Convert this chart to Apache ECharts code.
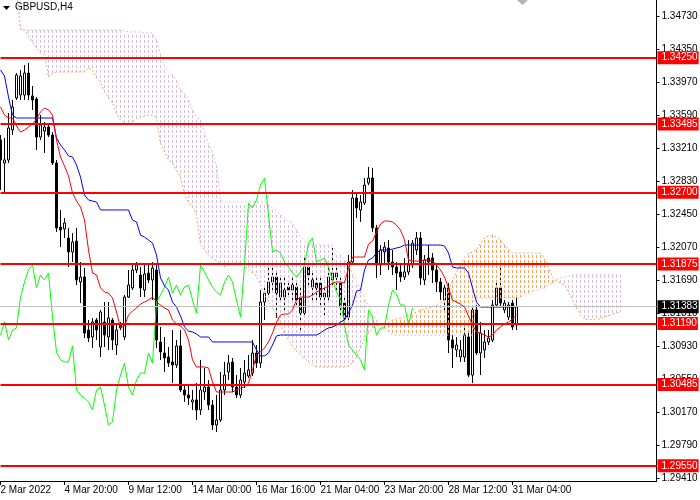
<!DOCTYPE html>
<html>
<head>
<meta charset="utf-8">
<title>GBPUSD,H4</title>
<script src="https://cdn.jsdelivr.net/npm/echarts@6.0.0/dist/echarts.min.js"></script>
<style>
  html, body { margin: 0; padding: 0; background: #ffffff; }
  #chart { width: 700px; height: 500px; }
</style>
</head>
<body>
<div id="chart"></div>
<script>
// bars on the time axis (price bars + 26 bars of forward cloud + empty space)
const barCount = 165;
const timeLabels = ['2 Mar 2022', '4 Mar 20:00', '9 Mar 12:00', '14 Mar 00:00', '16 Mar 16:00',
    '21 Mar 04:00', '23 Mar 20:00', '28 Mar 12:00', '31 Mar 04:00'];
const priceTicks = [1.29410, 1.29790, 1.30170, 1.30550, 1.30930, 1.31310, 1.31690, 1.32070,
    1.32450, 1.32830, 1.33210, 1.33590, 1.33970, 1.34350, 1.34730];
const levelLines = [1.34250, 1.33485, 1.32700, 1.31875, 1.31190, 1.30485, 1.29550];
const lastPrice = 1.31383;

// H4 candles
const opens = [
    1.33302, 1.33037, 1.33072, 1.33417, 1.33786, 1.33820, 1.33820, 1.34073, 1.33809, 1.33774,
    1.33336, 1.33405, 1.33451, 1.33359, 1.33037, 1.32300, 1.32277, 1.32173, 1.32012, 1.32138,
    1.31667, 1.31724, 1.31114, 1.31033, 1.31229, 1.30918, 1.31206, 1.31033, 1.31229, 1.30941,
    1.31171, 1.31033, 1.31493, 1.31598, 1.31805, 1.31747, 1.31574, 1.31770, 1.31690, 1.31805,
    1.30976, 1.30849, 1.30803, 1.30746, 1.30711, 1.30930, 1.30423, 1.30365, 1.30285, 1.30308,
    1.30193, 1.30400, 1.30457, 1.30250, 1.30020, 1.30078, 1.30423, 1.30630, 1.30746, 1.30457,
    1.30365, 1.30515, 1.30584, 1.30618, 1.30849, 1.30734, 1.31436, 1.31539, 1.31667, 1.31724,
    1.31493, 1.31493, 1.31609, 1.31574, 1.31609, 1.31482, 1.31309, 1.31839, 1.31609, 1.31655,
    1.31655, 1.31493, 1.31493, 1.31690, 1.31724, 1.31655, 1.31424, 1.31263, 1.31897, 1.32634,
    1.32496, 1.32576, 1.32806, 1.32864, 1.32289, 1.31862, 1.32012, 1.32058, 1.31897, 1.31839,
    1.31782, 1.31724, 1.31782, 1.31862, 1.32035, 1.32173, 1.31690, 1.31943, 1.31943, 1.31805,
    1.31667, 1.31459, 1.31598, 1.30999, 1.30884, 1.30803, 1.30803, 1.31033, 1.30595, 1.31344,
    1.30849, 1.30884, 1.30976, 1.30999, 1.31401, 1.31598, 1.31344, 1.31263, 1.31424, 1.31171
];
const highs = [
    1.33359, 1.33325, 1.33612, 1.33763, 1.34073, 1.34108, 1.34165, 1.34188, 1.33924, 1.33797,
    1.33589, 1.33509, 1.33497, 1.33394, 1.33072, 1.32496, 1.32404, 1.32289, 1.32230, 1.32289,
    1.31897, 1.31828, 1.31229, 1.31252, 1.31252, 1.31344, 1.31436, 1.31436, 1.31252, 1.31194,
    1.31206, 1.31516, 1.31805, 1.31862, 1.31897, 1.31839, 1.31885, 1.31862, 1.31897, 1.31862,
    1.31148, 1.31033, 1.30918, 1.31114, 1.30999, 1.31114, 1.30480, 1.30480, 1.30423, 1.30503,
    1.30769, 1.30677, 1.30538, 1.30308, 1.30365, 1.30630, 1.30746, 1.30826, 1.30792, 1.30595,
    1.30677, 1.30769, 1.30826, 1.30999, 1.30941, 1.31574, 1.31632, 1.31862, 1.31897, 1.31805,
    1.31747, 1.31713, 1.31690, 1.31736, 1.31690, 1.31598, 1.31943, 1.31897, 1.31805, 1.31747,
    1.31713, 1.31632, 1.31920, 1.32058, 1.31862, 1.31713, 1.31482, 1.31977, 1.32726, 1.32703,
    1.32668, 1.32864, 1.32991, 1.32980, 1.32323, 1.32092, 1.32127, 1.32150, 1.32035, 1.31897,
    1.31862, 1.31943, 1.32150, 1.32150, 1.32242, 1.32242, 1.31977, 1.32092, 1.32000, 1.31862,
    1.31713, 1.31632, 1.31655, 1.31056, 1.31033, 1.30999, 1.31171, 1.31114, 1.31378, 1.31401,
    1.31206, 1.31114, 1.31114, 1.31459, 1.31690, 1.31828, 1.31459, 1.31436, 1.31459, 1.31493
];
const lows = [
    1.32726, 1.32703, 1.33037, 1.33359, 1.33763, 1.33763, 1.33763, 1.33763, 1.33647, 1.33187,
    1.33302, 1.33152, 1.33336, 1.33014, 1.32242, 1.32069, 1.32173, 1.31839, 1.31897, 1.31632,
    1.31424, 1.31022, 1.30976, 1.30907, 1.30999, 1.30803, 1.30918, 1.30884, 1.30884, 1.30826,
    1.31114, 1.30999, 1.31482, 1.31574, 1.31770, 1.31493, 1.31493, 1.31655, 1.31459, 1.30907,
    1.30769, 1.30630, 1.30688, 1.30503, 1.30677, 1.30400, 1.30285, 1.30250, 1.30193, 1.30078,
    1.30135, 1.30308, 1.30193, 1.29962, 1.29939, 1.30055, 1.30365, 1.30538, 1.30400, 1.30331,
    1.30331, 1.30446, 1.30561, 1.30584, 1.30677, 1.30677, 1.31229, 1.31505, 1.31574, 1.31252,
    1.31459, 1.31344, 1.31516, 1.31459, 1.31401, 1.31114, 1.31286, 1.31632, 1.31459, 1.31459,
    1.31401, 1.31286, 1.31459, 1.31632, 1.31574, 1.31286, 1.31206, 1.31229, 1.31862, 1.32404,
    1.32358, 1.32553, 1.32783, 1.32242, 1.31713, 1.31747, 1.31862, 1.31805, 1.31747, 1.31574,
    1.31667, 1.31690, 1.31747, 1.31828, 1.31977, 1.31632, 1.31632, 1.31747, 1.31655, 1.31551,
    1.31459, 1.31344, 1.30849, 1.30677, 1.30803, 1.30746, 1.30746, 1.30572, 1.30503, 1.30826,
    1.30595, 1.30792, 1.30941, 1.30976, 1.31378, 1.31378, 1.31309, 1.31229, 1.31114, 1.31114
];
const closes = [
    1.33072, 1.33072, 1.33440, 1.33682, 1.34050, 1.34039, 1.34073, 1.33820, 1.33763, 1.33336,
    1.33474, 1.33451, 1.33359, 1.33037, 1.32289, 1.32265, 1.32346, 1.32012, 1.32127, 1.31690,
    1.31724, 1.31079, 1.31022, 1.31206, 1.31114, 1.31321, 1.31056, 1.31252, 1.30999, 1.31114,
    1.31137, 1.31493, 1.31632, 1.31805, 1.31862, 1.31598, 1.31759, 1.31690, 1.31828, 1.30999,
    1.30861, 1.30792, 1.30734, 1.30711, 1.30930, 1.30423, 1.30365, 1.30331, 1.30308, 1.30193,
    1.30423, 1.30457, 1.30250, 1.30020, 1.30078, 1.30423, 1.30595, 1.30734, 1.30457, 1.30365,
    1.30538, 1.30618, 1.30653, 1.30849, 1.30734, 1.31436, 1.31539, 1.31667, 1.31724, 1.31539,
    1.31655, 1.31574, 1.31574, 1.31632, 1.31459, 1.31309, 1.31839, 1.31747, 1.31690, 1.31598,
    1.31493, 1.31539, 1.31724, 1.31770, 1.31770, 1.31378, 1.31263, 1.31897, 1.32634, 1.32519,
    1.32588, 1.32783, 1.32864, 1.32289, 1.31862, 1.32035, 1.32069, 1.31897, 1.31839, 1.31770,
    1.31724, 1.31782, 1.31862, 1.32115, 1.32173, 1.31713, 1.31920, 1.31897, 1.31805, 1.31667,
    1.31551, 1.31598, 1.30999, 1.30907, 1.30941, 1.30884, 1.31056, 1.30595, 1.31344, 1.30849,
    1.31079, 1.30976, 1.31022, 1.31401, 1.31598, 1.31424, 1.31424, 1.31401, 1.31148, 1.31383
];

// Ichimoku lines
const tenkan = [
    1.33682, 1.33589, 1.33555, 1.33555, 1.33463, 1.33394, 1.33417, 1.33451, 1.33486, 1.33543,
    1.33624, 1.33670, 1.33647, 1.33589, 1.33302, 1.33106, 1.33003, 1.32887, 1.32691, 1.32599,
    1.32530, 1.32381, 1.32035, 1.31770, 1.31747, 1.31598, 1.31551, 1.31539, 1.31482, 1.31321,
    1.31137, 1.31160, 1.31286, 1.31332, 1.31367, 1.31413, 1.31436, 1.31459, 1.31493, 1.31436,
    1.31401, 1.31367, 1.31344, 1.31229, 1.31183, 1.31160, 1.31114, 1.30999, 1.30769, 1.30688,
    1.30688, 1.30688, 1.30677, 1.30515, 1.30400, 1.30400, 1.30400, 1.30400, 1.30400, 1.30423,
    1.30446, 1.30457, 1.30503, 1.30653, 1.30826, 1.30861, 1.30907, 1.30976, 1.31079, 1.31206,
    1.31286, 1.31298, 1.31298, 1.31344, 1.31459, 1.31493, 1.31493, 1.31493, 1.31516, 1.31551,
    1.31574, 1.31598, 1.31621, 1.31655, 1.31667, 1.31667, 1.31655, 1.31828, 1.31954, 1.31954,
    1.31954, 1.31954, 1.32104, 1.32138, 1.32242, 1.32335, 1.32369, 1.32369, 1.32358, 1.32323,
    1.32265, 1.32150, 1.31920, 1.31908, 1.31908, 1.31908, 1.31920, 1.31920, 1.31908, 1.31862,
    1.31805, 1.31724, 1.31598, 1.31459, 1.31436, 1.31413, 1.31378, 1.31275, 1.31171, 1.31091,
    1.31079, 1.31056, 1.31033, 1.31056, 1.31114, 1.31148, 1.31183, 1.31206, 1.31240, 1.31286
];
const kijun = [
    1.34108, 1.34039, 1.33797, 1.33589, 1.33555, 1.33555, 1.33555, 1.33555, 1.33555, 1.33555,
    1.33555, 1.33555, 1.33555, 1.33555, 1.33325, 1.33244, 1.33187, 1.33118, 1.33106, 1.33014,
    1.32875, 1.32668, 1.32611, 1.32599, 1.32588, 1.32496, 1.32496, 1.32496, 1.32496, 1.32496,
    1.32496, 1.32496, 1.32496, 1.32381, 1.32358, 1.32207, 1.32184, 1.32150, 1.32115, 1.31977,
    1.31713, 1.31621, 1.31574, 1.31436, 1.31378, 1.31275, 1.31148, 1.31102, 1.31091, 1.31068,
    1.31033, 1.31033, 1.31033, 1.30976, 1.30976, 1.30976, 1.30976, 1.30976, 1.30976, 1.30976,
    1.30976, 1.30976, 1.30976, 1.30976, 1.30884, 1.30815, 1.30815, 1.30849, 1.30941, 1.31045,
    1.31056, 1.31056, 1.31056, 1.31056, 1.31056, 1.31056, 1.31056, 1.31056, 1.31056, 1.31056,
    1.31079, 1.31114, 1.31137, 1.31148, 1.31171, 1.31206, 1.31229, 1.31309, 1.31401, 1.31562,
    1.31574, 1.31805, 1.31920, 1.31943, 1.32000, 1.32035, 1.32035, 1.32035, 1.32046, 1.32058,
    1.32069, 1.32092, 1.32092, 1.32092, 1.32092, 1.32092, 1.32092, 1.32092, 1.32092, 1.32092,
    1.32092, 1.32081, 1.32000, 1.31839, 1.31828, 1.31828, 1.31828, 1.31770, 1.31598, 1.31436,
    1.31378, 1.31378, 1.31378, 1.31378, 1.31378, 1.31378, 1.31378, 1.31378, 1.31378, 1.31378
];
// lagging span, drawn 26 bars back
const chikou = [
    1.31056, 1.31206, 1.30999, 1.31114, 1.31137, 1.31493, 1.31667, 1.31805, 1.31862, 1.31598,
    1.31747, 1.31690, 1.31770, 1.31263, 1.30861, 1.30769, 1.30746, 1.30746, 1.30930, 1.30423,
    1.30365, 1.30331, 1.30285, 1.30193, 1.30423, 1.30457, 1.30250, 1.30020, 1.30055, 1.30423,
    1.30595, 1.30734, 1.30457, 1.30365, 1.30538, 1.30618, 1.30618, 1.30849, 1.30734, 1.31436,
    1.31516, 1.31609, 1.31724, 1.31539, 1.31632, 1.31516, 1.31609, 1.31632, 1.31459, 1.31309,
    1.31862, 1.31782, 1.31690, 1.31609, 1.31551, 1.31516, 1.31667, 1.31747, 1.31667, 1.31459,
    1.31263, 1.31862, 1.32576, 1.32519, 1.32611, 1.32783, 1.32864, 1.32438, 1.32012, 1.32035,
    1.32000, 1.31897, 1.31839, 1.31770, 1.31724, 1.31782, 1.31862, 1.32115, 1.32173, 1.31897,
    1.31920, 1.31943, 1.31839, 1.31690, 1.31551, 1.31459, 1.31171, 1.30941, 1.30884, 1.30826,
    1.30769, 1.30653, 1.31344, 1.31263, 1.31056, 1.31137, 1.31137, 1.31401, 1.31574, 1.31528,
    1.31401, 1.31401, 1.31171, 1.31367
];
// leading spans, drawn 26 bars ahead (first bars sit above the visible range)
const senkouA = [
    1.35050, 1.35050, 1.35050, 1.35050, 1.35050, 1.34580, 1.34569, 1.34500, 1.34430, 1.34361,
    1.34303, 1.34280, 1.34027, 1.34073, 1.34085, 1.34085, 1.34085, 1.34085, 1.34085, 1.34085,
    1.34085, 1.34085, 1.34131, 1.34108, 1.34016, 1.33970, 1.33855, 1.33786, 1.33728, 1.33612,
    1.33532, 1.33486, 1.33486, 1.33509, 1.33543, 1.33566, 1.33578, 1.33589, 1.33589, 1.33555,
    1.33267, 1.33164, 1.33072, 1.33037, 1.32956, 1.32875, 1.32668, 1.32588, 1.32530, 1.32438,
    1.32092, 1.32035, 1.31977, 1.31943, 1.31908, 1.31885, 1.31839, 1.31862, 1.31885, 1.31885,
    1.31885, 1.31862, 1.31805, 1.31770, 1.31736, 1.31632, 1.31516, 1.31436, 1.31367, 1.31286,
    1.31171, 1.31079, 1.30999, 1.30930, 1.30872, 1.30826, 1.30780, 1.30746, 1.30711, 1.30688,
    1.30688, 1.30688, 1.30688, 1.30688, 1.30688, 1.30688, 1.30688, 1.30700, 1.30734, 1.30803,
    1.30907, 1.31010, 1.31079, 1.31137, 1.31160, 1.31171, 1.31194, 1.31206, 1.31229, 1.31240,
    1.31252, 1.31263, 1.31275, 1.31298, 1.31321, 1.31344, 1.31355, 1.31367, 1.31378, 1.31401,
    1.31436, 1.31459, 1.31574, 1.31690, 1.31782, 1.31862, 1.31943, 1.32000, 1.32012, 1.32035,
    1.32115, 1.32173, 1.32196, 1.32207, 1.32184, 1.32150, 1.32092, 1.32035, 1.32000, 1.32000,
    1.32000, 1.32000, 1.32000, 1.32000, 1.32000, 1.32000, 1.31943, 1.31828, 1.31724, 1.31678,
    1.31655, 1.31632, 1.31551, 1.31459, 1.31367, 1.31286, 1.31240, 1.31229, 1.31240, 1.31240,
    1.31240, 1.31263, 1.31275, 1.31298, 1.31309, 1.31321
];
const senkouB = [
    1.35050, 1.35050, 1.35050, 1.35050, 1.35050, 1.34569, 1.34569, 1.34569, 1.34569, 1.34569,
    1.34569, 1.34569, 1.34569, 1.34569, 1.34569, 1.34569, 1.34569, 1.34569, 1.34569, 1.34569,
    1.34569, 1.34569, 1.34569, 1.34569, 1.34569, 1.34569, 1.34569, 1.34569, 1.34569, 1.34569,
    1.34569, 1.34557, 1.34546, 1.34546, 1.34546, 1.34546, 1.34534, 1.34534, 1.34534, 1.34453,
    1.34303, 1.34154, 1.34085, 1.34050, 1.33993, 1.33878, 1.33843, 1.33763, 1.33647, 1.33566,
    1.33532, 1.33382, 1.33267, 1.33152, 1.33014, 1.32611, 1.32588, 1.32588, 1.32588, 1.32588,
    1.32588, 1.32588, 1.32588, 1.32588, 1.32588, 1.32588, 1.32588, 1.32553, 1.32519, 1.32484,
    1.32438, 1.32404, 1.32369, 1.32346, 1.32265, 1.32184, 1.32138, 1.32104, 1.32092, 1.32092,
    1.32092, 1.32092, 1.32092, 1.32081, 1.32023, 1.31977, 1.31920, 1.31851, 1.31770, 1.31678,
    1.31574, 1.31482, 1.31390, 1.31298, 1.31240, 1.31194, 1.31137, 1.31091, 1.31056, 1.31056,
    1.31056, 1.31056, 1.31056, 1.31056, 1.31056, 1.31056, 1.31056, 1.31056, 1.31056, 1.31056,
    1.31056, 1.31056, 1.31056, 1.31056, 1.31056, 1.31056, 1.31056, 1.31056, 1.31056, 1.31482,
    1.31482, 1.31482, 1.31482, 1.31482, 1.31482, 1.31482, 1.31482, 1.31482, 1.31482, 1.31482,
    1.31493, 1.31516, 1.31539, 1.31562, 1.31574, 1.31586, 1.31598, 1.31632, 1.31655, 1.31690,
    1.31713, 1.31724, 1.31736, 1.31747, 1.31747, 1.31747, 1.31747, 1.31747, 1.31747, 1.31747,
    1.31747, 1.31747, 1.31747, 1.31747, 1.31747, 1.31747
];

let chartInstance = null;

document.addEventListener('DOMContentLoaded', function() {
    initChart();
    window.addEventListener('resize', function() {
        if (chartInstance) chartInstance.resize();
    });
});

/**
 * label every 16th bar
 */
function isTimeTick(index) {
    return index % 16 === 0 && index / 16 < timeLabels.length;
}

/**
 * cloud hatching: per bar a column of short 1px dashes between span A and span B,
 * dashes kept on a common 5px row pattern like the terminal draws them
 */
function renderCloudBar(params, api) {
    const a = api.value(1);
    const b = api.value(2);
    const p1 = api.coord([api.value(0), a]);
    const p2 = api.coord([api.value(0), b]);
    const x = Math.floor(p1[0]);
    const top = Math.max(0, Math.round(Math.min(p1[1], p2[1])));
    const bottom = Math.round(Math.max(p1[1], p2[1]));
    const color = a >= b ? '#f4a460' : '#d8bfd8';
    const children = [];
    for (let y = Math.ceil(top / 5) * 5; y < bottom; y += 5) {
        children.push({
            type: 'rect',
            shape: { x: x, y: y, width: 1, height: Math.min(3, bottom - y) },
            style: { fill: color, stroke: 'none', lineWidth: 0, opacity: 1 }
        });
    }
    return { type: 'group', children: children };
}

function initChart() {
    const dom = document.getElementById('chart');
    chartInstance = echarts.init(dom, null, { renderer: 'canvas', devicePixelRatio: 1 });

    const categories = Array.from({ length: barCount }, (_, i) => String(i));
    const candleData = opens.map((o, i) => [o, closes[i], lows[i], highs[i]]);
    const cloudData = senkouA.map((a, i) => [i, a, senkouB[i]]);
    const fontFamily = 'Liberation Sans, Arial, sans-serif';

    const levelMarks = levelLines.map(v => ({ yAxis: v }));
    levelMarks.push({
        yAxis: lastPrice,
        lineStyle: { color: '#c0c0c0', width: 1, type: 'solid' },
        label: { backgroundColor: '#000000' }
    });

    chartInstance.setOption({
        animation: false,
        backgroundColor: '#ffffff',
        // 4px per bar, bars centred on pixel columns
        grid: {
            left: 0.5, right: 43.5, top: 0, bottom: 19,
            containLabel: false,
            outerBoundsMode: 'none'
        },
        graphic: [
            {
                type: 'polygon',
                shape: { points: [[3, 6], [10, 6], [6.5, 10]] },
                style: { fill: '#000000' }
            },
            {
                type: 'text',
                left: 15, top: 2,
                style: { text: 'GBPUSD,H4', fill: '#000000', font: '10px ' + fontFamily }
            },
            {
                type: 'polygon',
                shape: { points: [[517, 0], [528, 0], [522.5, 5]] },
                style: { fill: '#b4b4b4' }
            }
        ],
        xAxis: {
            type: 'category',
            data: categories,
            boundaryGap: false,
            axisLine: { show: true, lineStyle: { color: '#000000', width: 1 } },
            axisTick: { show: true, interval: isTimeTick, length: 4, lineStyle: { color: '#000000' } },
            axisLabel: {
                interval: isTimeTick,
                formatter: (value, index) => timeLabels[index / 16] || '',
                align: 'left',
                margin: 4,
                fontSize: 10,
                fontFamily: fontFamily,
                color: '#000000'
            },
            splitLine: { show: false }
        },
        yAxis: {
            type: 'value',
            position: 'right',
            min: 1.29375,
            max: 1.34914,
            scale: true,
            axisLine: { show: true, lineStyle: { color: '#000000', width: 1 } },
            axisTick: { show: true, length: 3, customValues: priceTicks, lineStyle: { color: '#000000' } },
            axisLabel: {
                customValues: priceTicks,
                formatter: v => v.toFixed(5),
                margin: 5,
                fontSize: 10,
                fontFamily: fontFamily,
                color: '#000000'
            },
            splitLine: { show: false }
        },
        series: [
            {
                name: 'Senkou Span A',
                type: 'line',
                data: senkouA,
                symbol: 'none',
                lineStyle: { color: '#f4a460', width: 1, type: [2, 2] },
                silent: true,
                z: 3
            },
            {
                name: 'Senkou Span B',
                type: 'line',
                data: senkouB,
                symbol: 'none',
                lineStyle: { color: '#d8bfd8', width: 1, type: [2, 2] },
                silent: true,
                z: 3
            },
            {
                name: 'GBPUSD',
                type: 'candlestick',
                data: candleData,
                barWidth: 3,
                itemStyle: {
                    color: '#ffffff',
                    color0: '#000000',
                    borderColor: '#000000',
                    borderColor0: '#000000',
                    borderWidth: 1
                },
                z: 2
            },
            {
                // hatching sits over the candles, as in the terminal
                name: 'Cloud',
                type: 'custom',
                data: cloudData,
                renderItem: renderCloudBar,
                clip: true,
                silent: true,
                z: 3
            },
            {
                name: 'Chikou Span',
                type: 'line',
                data: chikou,
                symbol: 'none',
                lineStyle: { color: '#00ff00', width: 1 },
                z: 4
            },
            {
                name: 'Kijun-sen',
                type: 'line',
                data: kijun,
                symbol: 'none',
                lineStyle: { color: '#0000ff', width: 1 },
                z: 4
            },
            {
                name: 'Tenkan-sen',
                type: 'line',
                data: tenkan,
                symbol: 'none',
                lineStyle: { color: '#ff0000', width: 1 },
                z: 5,
                markLine: {
                    silent: true,
                    symbol: 'none',
                    precision: 5,
                    lineStyle: { color: '#ff0000', width: 2, type: 'solid' },
                    label: {
                        show: true,
                        position: 'end',
                        distance: 1,
                        formatter: p => Number(p.value).toFixed(5),
                        color: '#ffffff',
                        backgroundColor: '#ff0000',
                        padding: [2, 1, 1, 4],
                        fontSize: 10,
                        fontFamily: fontFamily
                    },
                    data: levelMarks
                }
            }
        ]
    });
}
</script>
</body>
</html>
